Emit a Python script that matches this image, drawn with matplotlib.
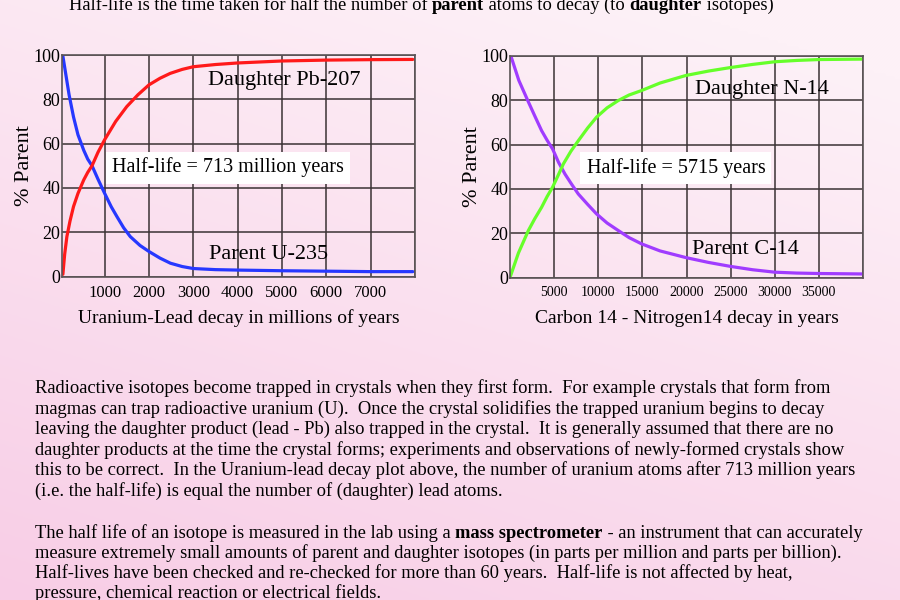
import numpy as np
import matplotlib
matplotlib.use("Agg")
import matplotlib.pyplot as plt
from matplotlib.colors import to_rgb

plt.rcParams['font.family'] = ['Liberation Serif', 'DejaVu Serif']

# uranium-lead chart (millions of years, %)
u_time = [60, 120, 200, 300, 400, 530, 620, 717, 850, 1000, 1150, 1280, 1430, 1580, 1800,
          2000, 2250, 2485, 2750, 3000, 3500, 4000, 5000, 6000, 7000, 7950]
u_parent = [99.5, 92, 82, 72, 64, 57, 53, 50, 44, 37.6, 31.5, 27, 22, 18, 14,
            11.3, 8.3, 6, 4.5, 3.6, 3.1, 2.9, 2.6, 2.4, 2.2, 2.2]
pb_time = [60, 100, 150, 220, 300, 400, 530, 620, 717, 850, 1000, 1250, 1500, 1750, 2000,
           2250, 2480, 2750, 3000, 3500, 4000, 5000, 6000, 7000, 7950]
pb_daughter = [1, 10, 18, 25, 31.6, 37.5, 43.6, 47, 50, 56, 61.7, 70, 76.7, 82, 86.5,
               89.5, 91.7, 93.5, 94.7, 95.7, 96.4, 97.3, 97.7, 97.9, 98]
u_ticks = [1000, 2000, 3000, 4000, 5000, 6000, 7000]

# carbon-nitrogen chart (years, %)
c_time = [100, 1000, 2080, 2800, 3580, 4200, 4830, 5500, 6230, 7000, 7740, 8800, 9810, 11000,
          12270, 13500, 14900, 17000, 19920, 22500, 25000, 27500, 30000, 32500, 35000, 39900]
c_parent = [100, 89, 79.3, 73, 66.3, 62, 58, 52, 46.7, 42, 37.7, 33, 28.7, 24.6,
            21.2, 18, 15.2, 12, 9, 6.8, 5, 3.5, 2.4, 2, 1.8, 1.6]
n_time = [0, 950, 2080, 2800, 3580, 4200, 4830, 5500, 6050, 6900, 7750, 8800, 9810, 11000,
          12270, 13500, 14900, 17000, 19920, 22500, 25000, 27500, 30000, 32500, 35000, 39900]
n_daughter = [0, 11, 21.2, 26.5, 31.7, 36.5, 40.8, 46.5, 51.3, 57, 61.8, 67.5, 72.4, 76.6,
              79.9, 82.4, 84.4, 87.8, 91.2, 93.2, 94.8, 96.2, 97.4, 98, 98.4, 98.6]
c_ticks = [5000, 10000, 15000, 20000, 25000, 30000, 35000]

W, H = 900, 600
fig = plt.figure(figsize=(9, 6), dpi=100)

# pink background gradient
bg = fig.add_axes([0, 0, 1, 1], zorder=-10)
yy, xx = np.mgrid[0:1:200j, 0:1:300j]
t = np.clip(0.75 * yy + 0.35 * (1 - xx) - 0.1, 0, 1)  # 0 = top-right, 1 = bottom-left
c_light = np.array(to_rgb('#fdf1f7'))
c_pink = np.array(to_rgb('#f8cde6'))
img = c_light * (1 - t[..., None]) + c_pink * t[..., None]
bg.imshow(img, aspect='auto', extent=[0, 1, 0, 1], origin='upper')
bg.axis('off')


def px_axes(x0, y0, x1, y1):
    return fig.add_axes([x0 / W, 1 - y1 / H, (x1 - x0) / W, (y1 - y0) / H])


grid_col = '#3a3234'


def style(ax, xmin, xmax, step, ticks, tick_size):
    ax.set_facecolor('none')
    ax.set_xlim(xmin, xmax)
    ax.set_ylim(0, 100)
    ax.set_xticks(np.arange(step, xmax + 1, step), minor=False)
    ax.set_xticklabels([str(v) if v in ticks else '' for v in np.arange(step, xmax + 1, step)],
                       fontsize=tick_size)
    ax.set_yticks([0, 20, 40, 60, 80, 100])
    ax.tick_params(axis='y', labelsize=13, length=0, pad=1)
    ax.tick_params(axis='x', length=0, pad=6)
    ax.grid(True, color=grid_col, linewidth=1.1)
    for s in ax.spines.values():
        s.set_color('#5a5456')
        s.set_linewidth(1.2)
    ax.set_ylabel('% Parent', fontsize=16, labelpad=0)


ax1 = px_axes(62, 55, 415, 276.5)
style(ax1, 40, 8000, 1000, u_ticks, 12)
ax1.plot(u_time, u_parent, color='#2638ff', lw=2.3, solid_capstyle='round')
ax1.plot(pb_time, pb_daughter, color='#ff1a1a', lw=2.3, solid_capstyle='round')
ax1.set_xlabel('Uranium-Lead decay in millions of years', fontsize=14, labelpad=6)
ax1.text(0.631, 0.883, 'Daughter Pb-207', transform=ax1.transAxes, fontsize=16,
         ha='center', va='center')
ax1.text(0.586, 0.099, 'Parent U-235', transform=ax1.transAxes, fontsize=16,
         ha='center', va='center')
ax1.text(0.469, 0.492, 'Half-life = 713 million years', transform=ax1.transAxes, fontsize=14.5,
         ha='center', va='center',
         bbox=dict(boxstyle='square,pad=0.3', fc='white', ec='none'))

ax2 = px_axes(510, 56, 863, 277.5)
style(ax2, 0, 40000, 5000, c_ticks, 10)
ax2.plot(c_time, c_parent, color='#a03cff', lw=2.3, solid_capstyle='round')
ax2.plot(n_time, n_daughter, color='#66ff2a', lw=2.3, solid_capstyle='round')
ax2.set_xlabel('Carbon 14 - Nitrogen14 decay in years', fontsize=14, labelpad=8)
ax2.text(0.715, 0.849, 'Daughter N-14', transform=ax2.transAxes, fontsize=16,
         ha='center', va='center')
ax2.text(0.668, 0.125, 'Parent C-14', transform=ax2.transAxes, fontsize=16,
         ha='center', va='center')
ax2.text(0.470, 0.495, 'Half-life = 5715 years', transform=ax2.transAxes, fontsize=14.5,
         ha='center', va='center',
         bbox=dict(boxstyle='square,pad=0.3', fc='white', ec='none'))

renderer = fig.canvas.get_renderer()


def rich_line(x, y, parts, size=13.3):
    # parts: list of (text, bold) drawn one after another, x/y in pixels from top-left
    for txt, bold in parts:
        t = fig.text(x / W, 1 - y / H, txt, fontsize=size, va='baseline', ha='left',
                     fontweight='bold' if bold else 'normal')
        x += t.get_window_extent(renderer).width


rich_line(69, 10, [('Half-life is the time taken for half the number of ', False),
                   ('parent', True), (' atoms to decay (to ', False),
                   ('daughter', True), (' isotopes)', False)], size=13.35)

para1 = [
    'Radioactive isotopes become trapped in crystals when they first form.  For example crystals that form from',
    'magmas can trap radioactive uranium (U).  Once the crystal solidifies the trapped uranium begins to decay',
    'leaving the daughter product (lead - Pb) also trapped in the crystal.  It is generally assumed that there are no',
    'daughter products at the time the crystal forms; experiments and observations of newly-formed crystals show',
    'this to be correct.  In the Uranium-lead decay plot above, the number of uranium atoms after 713 million years',
    '(i.e. the half-life) is equal the number of (daughter) lead atoms.',
]
for i, line in enumerate(para1):
    rich_line(35, 393 + i * 20.6, [(line, False)])

para2 = [
    [('The half life of an isotope is measured in the lab using a ', False), ('mass spectrometer', True),
     (' - an instrument that can accurately', False)],
    [('measure extremely small amounts of parent and daughter isotopes (in parts per million and parts per billion).', False)],
    [('Half-lives have been checked and re-checked for more than 60 years.  Half-life is not affected by heat,', False)],
    [('pressure, chemical reaction or electrical fields.', False)],
]
for i, parts in enumerate(para2):
    rich_line(35, 538 + i * 20.0, parts)

fig.savefig('out.png', dpi=100)
